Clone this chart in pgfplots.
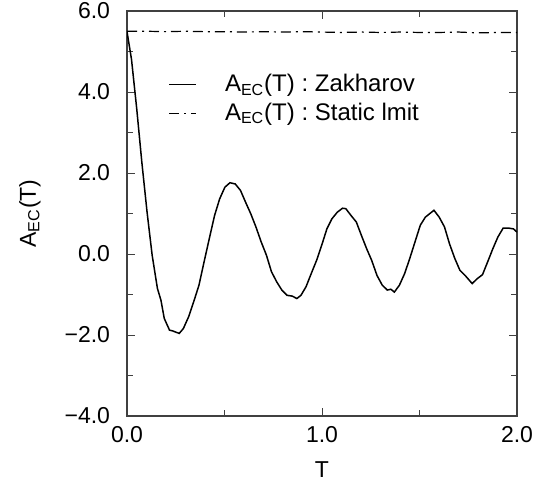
\documentclass[border=0pt]{standalone}
\usepackage{fontspec}
\setmainfont{Liberation Sans}
\usepackage{pgfplots}
\pgfplotsset{compat=1.18}

\begin{document}
\fontsize{11.5}{13}\selectfont
\begin{tikzpicture}
\begin{axis}[
  scale only axis,
  width=195pt, height=202.5pt,
  xmin=0, xmax=2, ymin=-4, ymax=6,
  xtick={0,1,2}, xticklabels={0.0,1.0,2.0},
  ytick={-4,-2,0,2,4,6}, yticklabels={−4.0,−2.0,0.0,2.0,4.0,6.0},
  minor xtick={0.5,1.5},
  minor ytick={-3,-1,1,3,5},
  tick align=inside,
  major tick length=4pt, minor tick length=3pt,
  axis line style={black!75, line width=0.6pt},
  every tick/.style={black!75, line width=0.5pt},
  tick label style={font=\fontsize{11.5}{13}\selectfont, inner sep=1pt},
  xticklabel style={yshift=-3.9pt},
  yticklabel style={xshift=-7.3pt},
  xlabel={T}, ylabel={A\textsubscript{EC}(T)},
  label style={font=\fontsize{11.5}{13}\selectfont},
  xlabel style={at={(axis description cs:0.5,0)}, anchor=north, inner sep=0pt, yshift=-22.5pt},
  ylabel style={yshift=7pt},
  legend style={at={(0.09,0.865)}, anchor=north west, draw=none, fill=none,
    font=\fontsize{12}{14}\selectfont, row sep=0pt,
    /tikz/every odd column/.append style={column sep=12pt}},
  legend cell align=left,
  legend image code/.code={\draw[#1] (0pt,0pt) -- (13.5pt,0pt);},
]
\addplot[black, line width=0.75pt] coordinates {
(0,5.49) (0.023,4.81) (0.05,3.58) (0.076,2.27) (0.103,1.03) (0.129,-0.03)
(0.156,-0.85) (0.174,-1.14) (0.191,-1.59) (0.218,-1.88) (0.235,-1.90) (0.245,-1.92)
(0.268,-1.96) (0.289,-1.84) (0.316,-1.55) (0.342,-1.18) (0.369,-0.77)
(0.395,-0.20) (0.422,0.38) (0.449,0.95) (0.475,1.36) (0.502,1.65)
(0.528,1.76) (0.555,1.73) (0.582,1.57) (0.608,1.28) (0.635,0.99)
(0.661,0.67) (0.688,0.30) (0.715,-0.03) (0.741,-0.44) (0.768,-0.69)
(0.794,-0.89) (0.821,-1.02) (0.848,-1.04) (0.871,-1.10) (0.892,-1.02)
(0.918,-0.81) (0.945,-0.48) (0.972,-0.16) (0.998,0.21) (1.025,0.62)
(1.051,0.87) (1.078,1.03) (1.105,1.13) (1.122,1.12) (1.149,0.95)
(1.176,0.79) (1.202,0.46) (1.229,0.13) (1.255,-0.16) (1.282,-0.53)
(1.309,-0.77) (1.335,-0.89) (1.353,-0.87) (1.371,-0.94) (1.397,-0.77)
(1.424,-0.48) (1.45,-0.11) (1.477,0.30) (1.504,0.71) (1.53,0.91)
(1.574,1.08) (1.601,0.91) (1.628,0.67) (1.654,0.25) (1.681,-0.11)
(1.707,-0.40) (1.734,-0.53) (1.77,-0.73) (1.796,-0.61) (1.823,-0.51)
(1.849,-0.20) (1.876,0.13) (1.902,0.42) (1.929,0.64) (1.956,0.64)
(1.982,0.62) (2.0,0.54)
};
\addlegendentry{A\textsubscript{EC}(T) : Zakharov}
\addplot[black, line width=0.6pt, dash pattern=on 5pt off 2.5pt on 1pt off 2.5pt] coordinates {
(0,5.50) (0.1,5.50) (0.2,5.49) (0.3,5.50) (0.4,5.49) (0.5,5.49) (0.6,5.48)
(0.7,5.49) (0.8,5.48) (0.9,5.49) (1.0,5.48) (1.1,5.47) (1.2,5.48) (1.3,5.47)
(1.4,5.48) (1.5,5.47) (1.6,5.47) (1.7,5.48) (1.8,5.46) (1.9,5.47) (2.0,5.47)
};
\addlegendentry{A\textsubscript{EC}(T) : Static lmit}
\end{axis}
\path (current axis.south west) ++(-63.5pt,-33pt);
\path (current axis.north east) ++(13pt,5.5pt);
\end{tikzpicture}
\end{document}
